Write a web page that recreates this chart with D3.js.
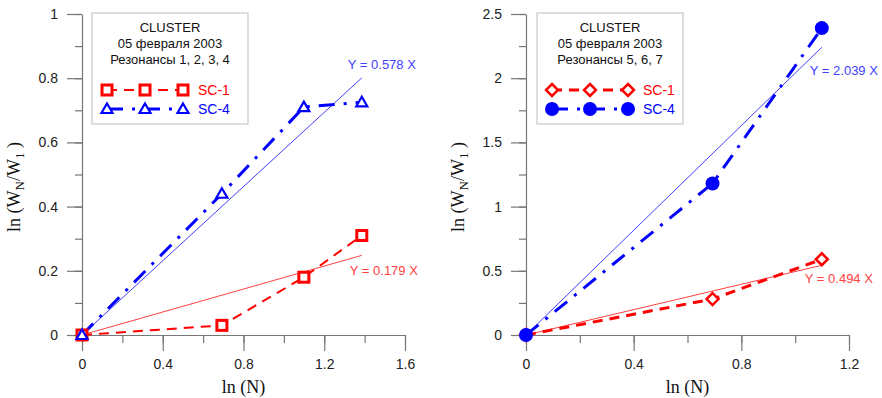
<!DOCTYPE html>
<html>
<head>
<meta charset="utf-8">
<script src="https://cdn.jsdelivr.net/npm/d3@7"></script>
<style>
  body { margin: 0; background: #fff; }
  svg { display: block; }
</style>
</head>
<body>
<div id="chart"></div>
<script>
// ln(N) for N = 1..4
var lnN = [0, 0.693, 1.099, 1.386];
// left panel: resonances 1-4
var leftSC1 = [0, 0.03, 0.18, 0.31];
var leftSC4 = [0, 0.44, 0.71, 0.725];
var leftSlopes = [0.179, 0.578];
// right panel: resonances 5-7
var lnNRight = [0, 0.693, 1.099];
var rightSC1 = [0, 0.28, 0.59];
var rightSC4 = [0, 1.18, 2.39];
var rightSlopes = [0.494, 2.039];

var leftTitle = ["CLUSTER", "05 февраля 2003", "Резонансы 1, 2, 3, 4"];
var rightTitle = ["CLUSTER", "05 февраля 2003", "Резонансы 5, 6, 7"];

var RED = "#ff0000", BLUE = "#0000ff";
var RED_FIT = "#ff4040", BLUE_FIT = "#4040ff";
var AXIS = "#777";

var svg = d3.select("#chart").append("svg")
    .attr("width", 882)
    .attr("height", 398);

function zip(xs, ys) { return xs.map(function(x, i) { return [x, ys[i]]; }); }

function panel(opt) {
  var x = d3.scaleLinear().domain(opt.xDomain).range(opt.xRange);
  var y = d3.scaleLinear().domain(opt.yDomain).range([335, 14]);
  var g = svg.append("g");

  // minor ticks
  g.append("g").attr("transform", "translate(0,335)")
    .call(d3.axisBottom(x).tickValues(d3.range(0, opt.xDomain[1] + 1e-9, opt.xStep / 2)).tickSize(8).tickFormat(""))
    .call(function(a) { a.select(".domain").remove(); });
  g.append("g").attr("transform", "translate(" + opt.xRange[0] + ",0)")
    .call(d3.axisLeft(y).tickValues(d3.range(0, opt.yDomain[1] + 1e-9, opt.yStep / 2)).tickSize(7).tickFormat(""))
    .call(function(a) { a.select(".domain").remove(); });
  // major ticks
  g.append("g").attr("transform", "translate(0,335)")
    .call(d3.axisBottom(x).tickValues(d3.range(0, opt.xDomain[1] + 1e-9, opt.xStep)).tickSize(16).tickSizeOuter(0).tickPadding(8).tickFormat(d3.format("~g")))
    .attr("class", "ax");
  g.append("g").attr("transform", "translate(" + opt.xRange[0] + ",0)")
    .call(d3.axisLeft(y).tickValues(d3.range(0, opt.yDomain[1] + 1e-9, opt.yStep)).tickSize(15).tickSizeOuter(0).tickPadding(9).tickFormat(d3.format("~g")))
    .attr("class", "ax");

  g.selectAll("line, path.domain").attr("stroke", AXIS).attr("stroke-width", 1.2);
  g.selectAll(".ax text").attr("font-family", "Liberation Sans, Arial, sans-serif")
    .attr("font-size", 14).attr("fill", "#222");

  // axis titles
  g.append("text")
    .attr("x", (opt.xRange[0] + opt.xRange[1]) / 2 + 0)
    .attr("y", 393)
    .attr("text-anchor", "middle")
    .attr("font-family", "Liberation Serif, Times New Roman, serif")
    .attr("font-size", 18).attr("fill", "#111")
    .text("ln (N)");
  var yt = g.append("text")
    .attr("transform", "translate(" + (opt.xRange[0] - 62) + ",187)rotate(-90)")
    .attr("text-anchor", "middle")
    .attr("font-family", "Liberation Serif, Times New Roman, serif")
    .attr("font-size", 18).attr("fill", "#111");
  yt.append("tspan").text("ln (W");
  yt.append("tspan").attr("font-size", 13).attr("dy", 4).text("N");
  yt.append("tspan").attr("dy", -4).text("/W");
  yt.append("tspan").attr("font-size", 13).attr("dy", 4).text("1");
  yt.append("tspan").attr("dy", -4).text(" )");

  // fit lines
  var xmax = d3.max(opt.xs);
  opt.slopes.forEach(function(k, i) {
    var col = i === 0 ? RED_FIT : BLUE_FIT;
    g.append("line")
      .attr("x1", x(0)).attr("y1", y(0))
      .attr("x2", x(xmax)).attr("y2", y(k * xmax))
      .attr("stroke", col).attr("stroke-width", 1);
    g.append("text")
      .attr("x", x(xmax) + opt.fitLabel[i][0])
      .attr("y", y(k * xmax) + opt.fitLabel[i][1])
      .attr("font-family", "Liberation Sans, Arial, sans-serif")
      .attr("font-size", 13).attr("fill", col)
      .text("Y = " + k.toFixed(3) + " X");
  });

  var line = d3.line().x(function(d) { return x(d[0]); }).y(function(d) { return y(d[1]); });

  // data lines
  g.append("path").datum(zip(opt.xs, opt.sc1))
    .attr("d", line).attr("fill", "none")
    .attr("stroke", RED).attr("stroke-width", opt.sc1Width).attr("stroke-dasharray", "10,7");
  g.append("path").datum(zip(opt.xs, opt.sc4))
    .attr("d", line).attr("fill", "none")
    .attr("stroke", BLUE).attr("stroke-width", 3).attr("stroke-dasharray", "16,9,3,9");

  // markers
  opt.marker1(g, zip(opt.xs, opt.sc1).map(function(d) { return [x(d[0]), y(d[1])]; }));
  opt.marker4(g, zip(opt.xs, opt.sc4).map(function(d) { return [x(d[0]), y(d[1])]; }));

  // legend
  var lx = opt.legend[0], ly = 13, lw = opt.legend[1];
  g.append("rect").attr("x", lx).attr("y", ly).attr("width", lw).attr("height", 111)
    .attr("fill", "#fff").attr("stroke", "#c8c8c8").attr("stroke-width", 1.2);
  opt.title.forEach(function(t, i) {
    g.append("text")
      .attr("x", lx + lw / 2).attr("y", ly + 19 + i * 16)
      .attr("text-anchor", "middle")
      .attr("font-family", "Liberation Sans, Arial, sans-serif")
      .attr("font-size", 13).attr("fill", "#111")
      .text(t);
  });
  var sx = [lx + 15, lx + 53, lx + 91];
  [[90, RED, opt.sc1Width, "10,7", opt.marker1, "SC-1"],
   [109, BLUE, 3, "16,9,3,9", opt.marker4, "SC-4"]].forEach(function(r) {
    g.append("line").attr("x1", sx[0]).attr("x2", sx[2]).attr("y1", r[0]).attr("y2", r[0])
      .attr("stroke", r[1]).attr("stroke-width", r[2]).attr("stroke-dasharray", r[3]);
    r[4](g, sx.map(function(v) { return [v, r[0]]; }));
    g.append("text").attr("x", lx + 106).attr("y", r[0] + 5)
      .attr("font-family", "Liberation Sans, Arial, sans-serif")
      .attr("font-size", 14).attr("fill", r[1])
      .text(r[5]);
  });
}

function squares(g, pts) {
  g.selectAll(null).data(pts).enter().append("rect")
    .attr("x", function(d) { return d[0] - 5; }).attr("y", function(d) { return d[1] - 5; })
    .attr("width", 10).attr("height", 10)
    .attr("fill", "#fff").attr("stroke", RED).attr("stroke-width", 3);
}
function triangles(g, pts) {
  g.selectAll(null).data(pts).enter().append("path")
    .attr("d", function(d) { return "M" + d[0] + "," + (d[1] - 5.5) + "L" + (d[0] + 5.5) + "," + (d[1] + 4) + "L" + (d[0] - 5.5) + "," + (d[1] + 4) + "Z"; })
    .attr("fill", "#fff").attr("stroke", BLUE).attr("stroke-width", 2.2);
}
function diamonds(g, pts) {
  g.selectAll(null).data(pts).enter().append("path")
    .attr("d", function(d) { return "M" + d[0] + "," + (d[1] - 6) + "L" + (d[0] + 6) + "," + d[1] + "L" + d[0] + "," + (d[1] + 6) + "L" + (d[0] - 6) + "," + d[1] + "Z"; })
    .attr("fill", "#fff").attr("stroke", RED).attr("stroke-width", 2.5);
}
function circles(g, pts) {
  g.selectAll(null).data(pts).enter().append("circle")
    .attr("cx", function(d) { return d[0]; }).attr("cy", function(d) { return d[1]; })
    .attr("r", 7).attr("fill", BLUE);
}

panel({
  xDomain: [0, 1.6], xRange: [82, 405], xStep: 0.4,
  yDomain: [0, 1], yStep: 0.2,
  xs: lnN, sc1: leftSC1, sc4: leftSC4, slopes: leftSlopes, sc1Width: 2,
  fitLabel: [[-12, 20], [-14, -9]],
  marker1: squares, marker4: triangles,
  legend: [92, 156], title: leftTitle
});

panel({
  xDomain: [0, 1.2], xRange: [526, 849], xStep: 0.4,
  yDomain: [0, 2.5], yStep: 0.5,
  xs: lnNRight, sc1: rightSC1, sc4: rightSC4, slopes: rightSlopes, sc1Width: 3,
  fitLabel: [[-17, 18], [-12, 28]],
  marker1: diamonds, marker4: circles,
  legend: [537, 146], title: rightTitle
});
</script>
</body>
</html>
